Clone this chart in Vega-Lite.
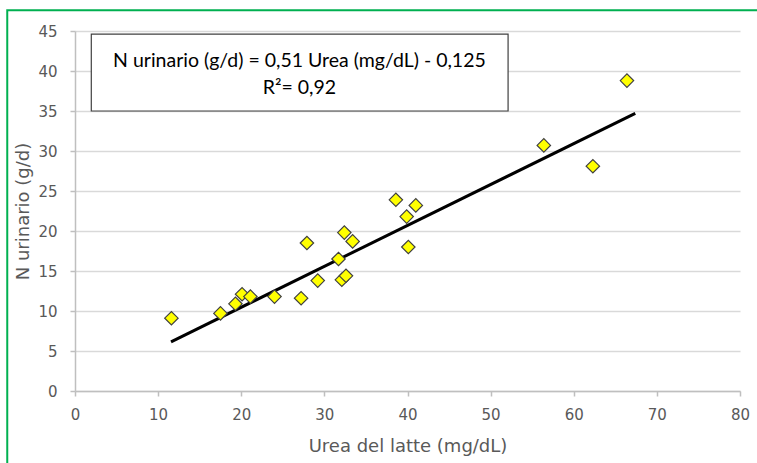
{
  "$schema": "https://vega.github.io/schema/vega-lite/v6.json",
  "width": 665,
  "height": 360,
  "autosize": {"type": "none"},
  "padding": {"left": 75, "top": 31, "right": 17, "bottom": 72},
  "background": "white",
  "config": {
    "view": {"stroke": null},
    "axis": {
      "labelFont": "DejaVu Sans",
      "titleFont": "DejaVu Sans",
      "labelColor": "#595959",
      "titleColor": "#595959",
      "labelFontSize": 15,
      "titleFontSize": 18,
      "titleFontWeight": "normal",
      "domainColor": "#bfbfbf",
      "domainWidth": 1.5,
      "tickColor": "#bfbfbf",
      "tickWidth": 1.5,
      "gridColor": "#d9d9d9",
      "gridWidth": 1.5,
      "tickSize": 5,
      "labelOverlap": false,
      "labelFlush": false,
      "tickCount": 30
    },
    "axisX": {"grid": false, "labelPadding": 11, "titlePadding": 15},
    "axisY": {"grid": true, "labelPadding": 13, "titlePadding": 5}
  },
  "datasets": {
    "points": [
      {"urea": 11.6, "n": 9.1},
      {"urea": 17.5, "n": 9.7},
      {"urea": 19.3, "n": 10.9},
      {"urea": 20.1, "n": 12.1},
      {"urea": 21.1, "n": 11.8},
      {"urea": 24.0, "n": 11.8},
      {"urea": 27.2, "n": 11.6},
      {"urea": 27.9, "n": 18.5},
      {"urea": 29.2, "n": 13.8},
      {"urea": 31.7, "n": 16.5},
      {"urea": 32.1, "n": 13.9},
      {"urea": 32.6, "n": 14.4},
      {"urea": 32.4, "n": 19.8},
      {"urea": 33.4, "n": 18.7},
      {"urea": 38.6, "n": 23.9},
      {"urea": 39.9, "n": 21.8},
      {"urea": 41.0, "n": 23.2},
      {"urea": 40.1, "n": 18.0},
      {"urea": 56.4, "n": 30.7},
      {"urea": 62.3, "n": 28.1},
      {"urea": 66.4, "n": 38.8}
    ],
    "fit": [
      {"urea": 11.55, "n": 6.15},
      {"urea": 67.4, "n": 34.7}
    ],
    "one": [{}]
  },
  "layer": [
    {
      "data": {"name": "points"},
      "mark": {"type": "point", "opacity": 0},
      "encoding": {
        "x": {
          "field": "urea", "type": "quantitative",
          "scale": {"domain": [0, 80], "nice": false},
          "axis": {"values": [0,10,20,30,40,50,60,70,80], "title": "Urea del latte (mg/dL)"}
        },
        "y": {
          "field": "n", "type": "quantitative",
          "scale": {"domain": [0, 45], "nice": false},
          "axis": {"values": [0,5,10,15,20,25,30,35,40,45], "title": "N urinario (g/d)"}
        }
      }
    },
    {
      "data": {"name": "one"},
      "mark": {"type": "rect", "fill": null, "stroke": "#00b050", "strokeWidth": 2},
      "encoding": {
        "x": {"datum": -8.15, "type": "quantitative", "axis": {"values": [0,10,20,30,40,50,60,70,80], "title": "Urea del latte (mg/dL)"}},
        "x2": {"datum": 100},
        "y": {"datum": 47.6, "type": "quantitative", "axis": {"values": [0,5,10,15,20,25,30,35,40,45], "title": "N urinario (g/d)"}},
        "y2": {"datum": -20}
      }
    },
    {
      "data": {"name": "one"},
      "mark": {"type": "rect", "fill": "white", "stroke": "#404040", "strokeWidth": 1.2},
      "encoding": {
        "x": {"datum": 1.96, "type": "quantitative", "axis": {"values": [0,10,20,30,40,50,60,70,80], "title": "Urea del latte (mg/dL)"}},
        "x2": {"datum": 52.1},
        "y": {"datum": 44.6, "type": "quantitative", "axis": {"values": [0,5,10,15,20,25,30,35,40,45], "title": "N urinario (g/d)"}},
        "y2": {"datum": 35}
      }
    },
    {
      "data": {"name": "one"},
      "mark": {"type": "text", "font": "Lato", "fontSize": 19.5, "color": "#000000", "align": "center", "baseline": "middle"},
      "encoding": {
        "x": {"datum": 27.0, "type": "quantitative", "axis": {"values": [0,10,20,30,40,50,60,70,80], "title": "Urea del latte (mg/dL)"}},
        "y": {"datum": 41.2, "type": "quantitative", "axis": {"values": [0,5,10,15,20,25,30,35,40,45], "title": "N urinario (g/d)"}},
        "text": {"value": "N urinario (g/d) = 0,51 Urea (mg/dL) - 0,125"}
      }
    },
    {
      "data": {"name": "one"},
      "mark": {"type": "text", "font": "Lato", "fontSize": 19.5, "color": "#000000", "align": "center", "baseline": "middle"},
      "encoding": {
        "x": {"datum": 27.0, "type": "quantitative", "axis": {"values": [0,10,20,30,40,50,60,70,80], "title": "Urea del latte (mg/dL)"}},
        "y": {"datum": 37.9, "type": "quantitative", "axis": {"values": [0,5,10,15,20,25,30,35,40,45], "title": "N urinario (g/d)"}},
        "text": {"value": "R²= 0,92"}
      }
    },
    {
      "data": {"name": "fit"},
      "mark": {"type": "line", "color": "#000000", "strokeWidth": 3},
      "encoding": {
        "x": {"field": "urea", "type": "quantitative", "axis": {"values": [0,10,20,30,40,50,60,70,80], "title": "Urea del latte (mg/dL)"}},
        "y": {"field": "n", "type": "quantitative", "axis": {"values": [0,5,10,15,20,25,30,35,40,45], "title": "N urinario (g/d)"}}
      }
    },
    {
      "data": {"name": "points"},
      "mark": {"type": "point", "shape": "diamond", "filled": true, "fill": "#ffff00", "stroke": "#404040", "strokeWidth": 1.2, "size": 180, "opacity": 1},
      "encoding": {
        "x": {"field": "urea", "type": "quantitative", "axis": {"values": [0,10,20,30,40,50,60,70,80], "title": "Urea del latte (mg/dL)"}},
        "y": {"field": "n", "type": "quantitative", "axis": {"values": [0,5,10,15,20,25,30,35,40,45], "title": "N urinario (g/d)"}}
      }
    }
  ]
}
